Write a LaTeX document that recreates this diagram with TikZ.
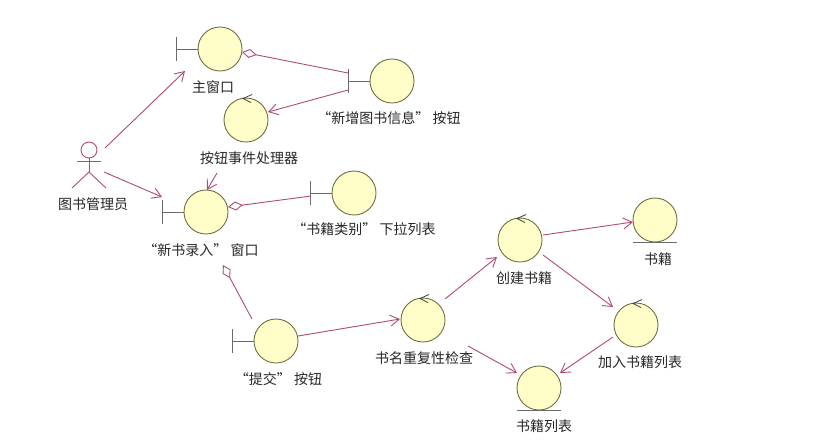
\documentclass[tikz,border=0pt]{standalone}
\usepackage{fontspec}
\setmainfont{Noto Sans CJK SC}
\usetikzlibrary{arrows.meta,calc}
\definecolor{linkc}{HTML}{B04A78}
\definecolor{ballc}{HTML}{FFFDC8}
\definecolor{ballb}{HTML}{6F6F45}
\definecolor{barc}{HTML}{6A6A6A}
\tikzset{
  ball/.style={circle,draw=ballb,fill=ballc,line width=0.9pt,minimum size=44pt,inner sep=0pt},
  lab/.style={font=\fontsize{14}{16}\selectfont,text=black!85,inner sep=0pt},
  link/.style={draw=linkc,line width=0.9pt},
  arr/.style={link,-{Straight Barb[length=9pt,width=11pt,line width=0.9pt]}},
  dia/.style={link,{Diamond[open,length=15pt,width=9pt,line width=0.9pt,fill=white]}-},
  barline/.style={draw=barc,line width=1pt},
  ctlmark/.style={draw=black!75,line width=0.8pt},
  actorline/.style={draw=linkc,line width=0.9pt}
}
\newcommand{\bndy}[1]{\draw[barline] ($(#1)+(-43.5,-12)$) -- ($(#1)+(-43.5,12)$); \draw[barline] ($(#1)+(-43.5,0)$) -- (#1.west);}
\newcommand{\ctrl}[1]{\draw[ctlmark] ($(#1)+(6,-25.5)$) -- ($(#1)+(-3,-21.5)$) -- ($(#1)+(5,-17.5)$);}
\newcommand{\ent}[1]{\draw[barline,line width=0.9pt] ($(#1)+(-22,22)$) -- ($(#1)+(22,22)$);}
\begin{document}
\begin{tikzpicture}[x=1pt,y=-1pt]
\useasboundingbox (0,0) rectangle (813,445);
\node[ball] (main) at (220,49) {};
\node[ball] (handler) at (246,120) {};
\node[ball] (win) at (206,212) {};
\node[ball] (addbtn) at (392,81) {};
\node[ball] (combo) at (354,193) {};
\node[ball] (submit) at (276,341) {};
\node[ball] (check) at (423,320) {};
\node[ball] (create) at (520,240) {};
\node[ball] (book) at (655,220) {};
\node[ball] (addlist) at (636,325) {};
\node[ball] (list) at (539,388) {};
\node[minimum width=34pt,minimum height=46pt,inner sep=0pt] (actor) at (89,165) {};
% actor
\draw[actorline] (89,150) circle (8);
\draw[actorline] ($(actor)+(0,-7)$) -- ($(actor)+(0,7)$);
\draw[actorline] ($(actor)+(-12,-4)$) -- ($(actor)+(12,-4)$);
\draw[actorline] ($(actor)+(-17,23)$) -- ($(actor)+(0,7)$) -- ($(actor)+(17,23)$);
% stereotypes
\bndy{main}\bndy{win}\bndy{addbtn}\bndy{combo}\bndy{submit}
\ctrl{handler}\ctrl{check}\ctrl{create}\ctrl{addlist}
\ent{book}\ent{list}
% connectors
\draw[arr] ($(actor)+(16,-17)$) -- ($(main)+(-35,22)$);
\draw[arr] ($(actor)+(15,7)$) -- ($(win)+(-44,-15)$);
\draw[arr] ($(handler)+(-29,53)$) -- ($(win)+(1,-22)$);
\draw[dia] ($(main)+(22,3)$) -- ($(addbtn)+(-44,-8)$);
\draw[arr] ($(addbtn)+(-44,9)$) -- ($(handler)+(22,-8)$);
\draw[dia] ($(win)+(22,-5)$) -- ($(combo)+(-43,3)$);
\draw[dia] ($(win)+(17,53)$) -- ($(submit)+(-24,-22)$);
\draw[arr] ($(submit)+(22,-5)$) -- ($(check)+(-23,-1)$);
\draw[arr] ($(check)+(22,-21)$) -- ($(create)+(-23,17)$);
\draw[arr] ($(check)+(45,26)$) -- ($(list)+(-22,-15)$);
\draw[arr] ($(create)+(23,-5)$) -- ($(book)+(-22,2)$);
\draw[arr] ($(create)+(23,15)$) -- ($(addlist)+(-23,-18)$);
\draw[arr] ($(addlist)+(-23,12)$) -- ($(list)+(21,-15)$);
% labels
\node[lab] (lmain) at (213,87) {主窗口};
\node[lab] (lhandler) at (249,158) {按钮事件处理器};
\node[lab] (lactor) at (93,204) {图书管理员};
\node[lab] (laddbtn) at (389,118) {“新增图书信息” 按钮};
\node[lab] (lcombo) at (364,229) {“书籍类别” 下拉列表};
\node[lab] (lwin) at (201,250) {“新书录入” 窗口};
\node[lab] (lsubmit) at (278.5,379) {“提交” 按钮};
\node[lab] (lcheck) at (424,358) {书名重复性检查};
\node[lab] (lcreate) at (524,278) {创建书籍};
\node[lab] (lbook) at (658,259) {书籍};
\node[lab] (laddlist) at (640,362) {加入书籍列表};
\node[lab] (llist) at (544,426) {书籍列表};
\end{tikzpicture}
\end{document}
